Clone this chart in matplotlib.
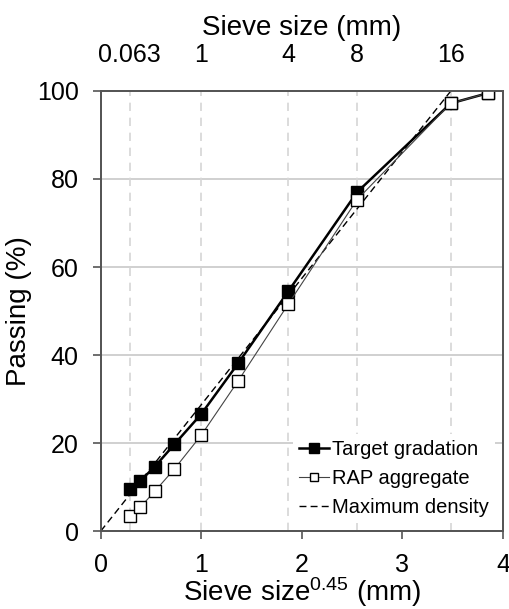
import numpy as np
import matplotlib
matplotlib.use("Agg")
import matplotlib.pyplot as plt

plt.rcParams["font.family"] = ["Liberation Sans", "DejaVu Sans"]
plt.rcParams["mathtext.fontset"] = "custom"
plt.rcParams["mathtext.rm"] = "Liberation Sans"
plt.rcParams["mathtext.default"] = "regular"

# sieve sizes (mm) and passing (%)
sieve_mm = [0.063, 0.125, 0.25, 0.5, 1, 2, 4, 8, 16, 20]
target_pass = [9.6, 11.4, 14.6, 19.7, 26.6, 38.1, 54.5, 77.0, 97.2, 99.5]
rap_pass = [3.5, 5.4, 9.0, 14.1, 21.8, 34.1, 51.6, 75.3, 97.2, 99.5]
maxdens_mm = [0, 16]
maxdens_pass = [0, 100]
top_ticks = [0.063, 1, 4, 8, 16]
top_labels = ["0.063", "1", "4", "8", "16"]

x_t = np.array(sieve_mm) ** 0.45
x_md = np.array(maxdens_mm) ** 0.45
x_top = np.array(top_ticks) ** 0.45

spine_col = "#555555"

fig = plt.figure(figsize=(5.09, 6.09), dpi=100)
ax = fig.add_axes([0.198, 0.128, 0.79, 0.7226])

ax.set_xlim(0, 4)
ax.set_ylim(0, 100)

# grid
for y in [20, 40, 60, 80]:
    ax.axhline(y, color="#c8c8c8", lw=1.2, zorder=0)
for xv in x_top:
    ax.axvline(xv, color="#d6d6d6", lw=1.2, ls=(0, (5, 4)), zorder=0)

ax.plot(x_md, maxdens_pass, color="black", lw=1, ls=(0, (5, 3)),
        label="Maximum density", zorder=2)
ax.plot(x_t, target_pass, color="black", lw=1.8, marker="s", ms=9,
        mfc="black", mec="black", label="Target gradation", zorder=3)
ax.plot(x_t, rap_pass, color="#444444", lw=0.8, marker="s", ms=8.5,
        mfc="white", mec="black", mew=1, label="RAP aggregate", zorder=4)

for s in ax.spines.values():
    s.set_color(spine_col)
    s.set_linewidth(1.3)

ax.set_xticks([0, 1, 2, 3, 4])
ax.set_yticks([0, 20, 40, 60, 80, 100])
ax.tick_params(direction="out", length=6, width=1.2, color=spine_col,
               labelsize=18, pad=10)
ax.set_xlabel(r"Sieve size$^{0.45}$ (mm)", fontsize=20)
ax.xaxis.set_label_coords(0.5, -0.1)
ax.set_ylabel("Passing (%)", fontsize=20)
ax.yaxis.set_label_coords(-0.172, 0.5)

top = ax.twiny()
top.set_xlim(0, 4)
top.set_xticks(x_top)
top.set_xticklabels(top_labels)
top.tick_params(length=0, labelsize=18, pad=17)
for s in top.spines.values():
    s.set_color(spine_col)
    s.set_linewidth(1.3)
top.set_xlabel("Sieve size (mm)", fontsize=20, labelpad=6)

h, l = ax.get_legend_handles_labels()
order = [1, 2, 0]
leg = ax.legend([h[i] for i in order], [l[i] for i in order], loc="lower right",
                fontsize=14.5, frameon=True, fancybox=False, edgecolor="none",
                framealpha=1, handlelength=1.5, handletextpad=0.15,
                borderaxespad=0.4, labelspacing=0.5, markerscale=0.75,
                borderpad=0.3)

fig.savefig("out.png", dpi=100)
